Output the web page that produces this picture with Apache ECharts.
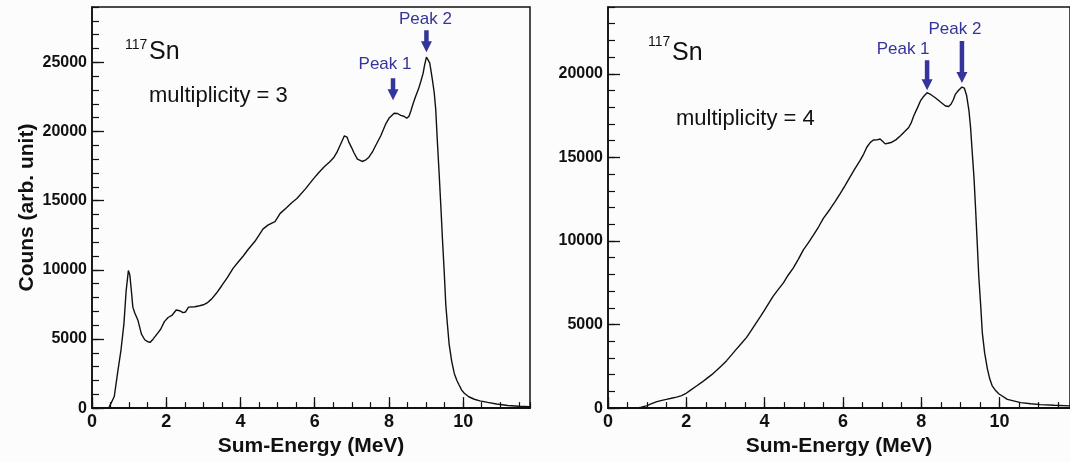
<!DOCTYPE html>
<html>
<head>
<meta charset="utf-8">
<script src="https://cdn.jsdelivr.net/npm/echarts@6/dist/echarts.min.js"></script>
<style>
  html, body { margin: 0; padding: 0; background: #fcfcfc; }
  #chart { width: 1070px; height: 462px; }
</style>
</head>
<body>
<div id="chart"></div>
<script>
// multiplicity = 3 spectrum (MeV, counts)
const energy3 = [0.0, 0.45, 0.5, 0.6, 0.7, 0.78, 0.86, 0.92, 0.98, 1.02, 1.06, 1.1, 1.15, 1.24, 1.33, 1.42, 1.5, 1.57, 1.65, 1.75,
  1.85, 1.95, 2.05, 2.15, 2.27, 2.36, 2.45, 2.52, 2.6, 2.77, 2.9, 3.0, 3.1, 3.22, 3.35, 3.49, 3.65, 3.8, 3.95, 4.07,
  4.2, 4.39, 4.5, 4.61, 4.75, 4.93, 5.07, 5.24, 5.38, 5.52, 5.75, 5.97, 6.1, 6.25, 6.4, 6.52, 6.6, 6.7, 6.8, 6.87,
  6.92, 7.0, 7.05, 7.15, 7.28, 7.38, 7.46, 7.55, 7.64, 7.78, 7.91, 8.0, 8.14, 8.23, 8.32, 8.4, 8.48, 8.54, 8.59, 8.65,
  8.72, 8.8, 8.86, 8.92, 8.96, 9.01, 9.05, 9.1, 9.17, 9.22, 9.26, 9.3, 9.35, 9.4, 9.44, 9.49, 9.53, 9.58, 9.62, 9.69,
  9.76, 9.83, 9.89, 9.96, 10.03, 10.15, 10.3, 10.45, 10.66, 10.9, 11.2, 11.5, 11.8];
const counts3 = [0, 0, 60, 840, 2750, 4180, 6090, 8480, 9950, 9600, 8500, 7300, 6900, 6330, 5370, 4940, 4800, 4760, 5000, 5350,
  5700, 6250, 6550, 6700, 7090, 7040, 6900, 6950, 7300, 7330, 7400, 7470, 7600, 7880, 8300, 8830, 9450, 10100, 10600, 10980,
  11450, 12060, 12500, 12960, 13250, 13490, 14080, 14490, 14850, 15160, 15850, 16590, 17000, 17430, 17800, 18140, 18500, 19100, 19690, 19600,
  19230, 18800, 18500, 18000, 17830, 17950, 18140, 18500, 18970, 19690, 20530, 20950, 21320, 21300, 21170, 21100, 20960, 21100, 21480, 22000,
  22550, 23100, 23630, 24200, 24800, 25370, 25200, 24940, 23750, 22800, 21600, 19500, 17070, 14500, 12290, 9800, 7520, 5900, 4650, 3400,
  2510, 2000, 1670, 1300, 1070, 820, 640, 520, 410, 300, 190, 130, 100];

// multiplicity = 4 spectrum (MeV, counts)
const energy4 = [0.0, 0.72, 0.85, 0.98, 1.1, 1.23, 1.35, 1.49, 1.62, 1.75, 1.88, 1.98, 2.1, 2.26, 2.4, 2.51, 2.65, 2.77, 2.9, 3.03,
  3.15, 3.28, 3.4, 3.54, 3.66, 3.79, 3.9, 4.01, 4.1, 4.22, 4.35, 4.48, 4.6, 4.73, 4.86, 4.99, 5.12, 5.25, 5.38, 5.5,
  5.67, 5.8, 5.93, 6.05, 6.18, 6.3, 6.44, 6.53, 6.61, 6.7, 6.78, 6.87, 6.95, 7.02, 7.08, 7.15, 7.25, 7.35, 7.47, 7.58,
  7.68, 7.75, 7.81, 7.9, 7.98, 8.06, 8.15, 8.25, 8.36, 8.5, 8.62, 8.7, 8.76, 8.82, 8.87, 8.95, 9.04, 9.1, 9.16, 9.22,
  9.26, 9.3, 9.35, 9.39, 9.43, 9.47, 9.52, 9.56, 9.62, 9.69, 9.75, 9.81, 9.9, 9.98, 10.2, 10.54, 10.8, 11.05, 11.4, 11.82];
const counts4 = [0, 0, 60, 130, 250, 370, 450, 520, 590, 660, 750, 860, 1060, 1320, 1550, 1750, 2000, 2250, 2540, 2840,
  3170, 3530, 3850, 4230, 4650, 5120, 5500, 5910, 6250, 6700, 7100, 7490, 7950, 8380, 8900, 9470, 9900, 10360, 10850, 11350,
  11900, 12350, 12840, 13300, 13820, 14300, 14820, 15200, 15610, 15900, 16040, 16050, 16100, 15950, 15810, 15850, 15910, 16050, 16300, 16550,
  16790, 17100, 17490, 17950, 18380, 18650, 18870, 18750, 18570, 18300, 18080, 18050, 18180, 18450, 18770, 19000, 19210, 19150, 18700, 17780,
  16800, 15410, 13700, 11850, 9900, 7890, 6100, 4520, 3300, 2350, 1750, 1350, 1050, 860, 520, 330, 260, 210, 170, 130];

// peak markers
const peakNames = ['Peak 1', 'Peak 2'];
const peakEnergy3 = [8.11, 9.01];
const peakCounts3 = [21320, 25370];
const peakEnergy4 = [8.15, 9.04];
const peakCounts4 = [18870, 19210];

const FONT = "'Liberation Sans', Arial, Helvetica, sans-serif";
const INK = '#111';
const BLUE = '#35349a';

function pairs(xs, ys) {
  return xs.map((x, i) => [x, ys[i]]);
}

function arrowPath(len) {
  const hw = 5.5, sw = 2.25, hh = 11;
  return 'path://M' + (-sw) + ',0L' + sw + ',0L' + sw + ',' + (len - hh) + 'L' + hw + ',' + (len - hh) +
    'L0,' + len + 'L' + (-hw) + ',' + (len - hh) + 'L' + (-sw) + ',' + (len - hh) + 'Z';
}

// one arrow + label per peak; len/gap/dx/dist are drawing styles only
function peakMarks(es, cs, styles) {
  return es.map((e, i) => {
    const s = styles[i];
    return {
      name: peakNames[i],
      coord: [e, cs[i]],
      symbol: arrowPath(s.len),
      symbolSize: [11, s.len],
      symbolOffset: [0, -(s.gap + s.len / 2)],
      label: { offset: [s.dx, 0], distance: s.dist }
    };
  });
}

// major axis (labels, long ticks) + minor axis (short ticks only) on the same edge
function xAxes(grid) {
  return [
    {
      gridIndex: grid, type: 'value', position: 'bottom', min: 0, max: 11.8, interval: 2,
      name: 'Sum-Energy (MeV)', nameLocation: 'middle', nameGap: 21,
      nameTextStyle: { fontFamily: FONT, fontWeight: 'bold', fontSize: 21, color: INK },
      axisLine: { show: true, lineStyle: { color: INK, width: 2 } },
      axisTick: { show: true, inside: true, length: 11, lineStyle: { color: INK, width: 1.3 } },
      axisLabel: { fontFamily: FONT, fontWeight: 'bold', fontSize: 18, color: INK, margin: 5, showMaxLabel: false },
      splitLine: { show: false }
    },
    {
      gridIndex: grid, type: 'value', position: 'bottom', offset: 0, min: 0, max: 11.8, interval: 0.5,
      axisLine: { show: false },
      axisTick: { show: true, inside: true, length: 6, lineStyle: { color: INK, width: 1.2 } },
      axisLabel: { show: false },
      splitLine: { show: false }
    }
  ];
}

function yAxes(grid, max, title) {
  const major = {
    gridIndex: grid, type: 'value', position: 'left', min: 0, max: max, interval: 5000,
    axisLine: { show: true, lineStyle: { color: INK, width: 1.6 } },
    axisTick: { show: true, inside: true, length: 12, lineStyle: { color: INK, width: 1.3 } },
    axisLabel: {
      fontFamily: FONT, fontWeight: 'bold', fontSize: 16, color: INK, margin: 5, showMaxLabel: false,
      formatter: v => String(v)
    },
    splitLine: { show: false }
  };
  if (title) {
    major.name = title;
    major.nameLocation = 'middle';
    major.nameGap = 54;
    major.nameTextStyle = { fontFamily: FONT, fontWeight: 'bold', fontSize: 21, color: INK };
  }
  return [
    major,
    {
      gridIndex: grid, type: 'value', position: 'left', offset: 0, min: 0, max: max, interval: 1000,
      axisLine: { show: false },
      axisTick: { show: true, inside: true, length: 7, lineStyle: { color: INK, width: 1.2 } },
      axisLabel: { show: false },
      splitLine: { show: false }
    }
  ];
}

function spectrum(xi, yi, data, marks) {
  return {
    type: 'line', xAxisIndex: xi, yAxisIndex: yi, data: data,
    symbol: 'none', silent: true,
    lineStyle: { color: INK, width: 1.4 },
    markPoint: {
      silent: true,
      itemStyle: { color: BLUE },
      label: { show: true, position: 'top', formatter: '{b}', color: BLUE, fontFamily: FONT, fontSize: 17 },
      data: marks
    }
  };
}

function txt(x, y, text, size) {
  return {
    type: 'text', x: x, y: y, silent: true,
    style: { text: text, fill: INK, font: size + 'px ' + FONT, align: 'left', verticalAlign: 'middle' }
  };
}

const chart = echarts.init(document.getElementById('chart'));

chart.setOption({
  animation: false,
  backgroundColor: '#fcfcfc',
  grid: [
    { left: 92, top: 7, width: 438, bottom: 50, show: true, borderColor: INK, borderWidth: 1.5 },
    { left: 608, top: 7, width: 462, bottom: 52, show: true, borderColor: INK, borderWidth: 1.5 }
  ],
  xAxis: xAxes(0).concat(xAxes(1)),
  yAxis: yAxes(0, 29000, 'Couns (arb. unit)').concat(yAxes(1, 24000, null)),
  series: [
    spectrum(0, 0, pairs(energy3, counts3), peakMarks(peakEnergy3, peakCounts3, [
      { len: 22, gap: 13, dx: -8, dist: 5 },
      { len: 22, gap: 5, dx: -1, dist: 2 }
    ])),
    spectrum(2, 2, pairs(energy4, counts4), peakMarks(peakEnergy4, peakCounts4, [
      { len: 30, gap: 2.5, dx: -24, dist: 2 },
      { len: 42, gap: 4, dx: -7, dist: 3 }
    ]))
  ],
  graphic: [
    txt(125, 45, '117', 14),
    txt(149, 52, 'Sn', 25),
    txt(149, 95.6, 'multiplicity = 3', 22),
    txt(648, 42, '117', 14),
    txt(672, 53, 'Sn', 25),
    txt(676, 119, 'multiplicity = 4', 22)
  ]
});
</script>
</body>
</html>
